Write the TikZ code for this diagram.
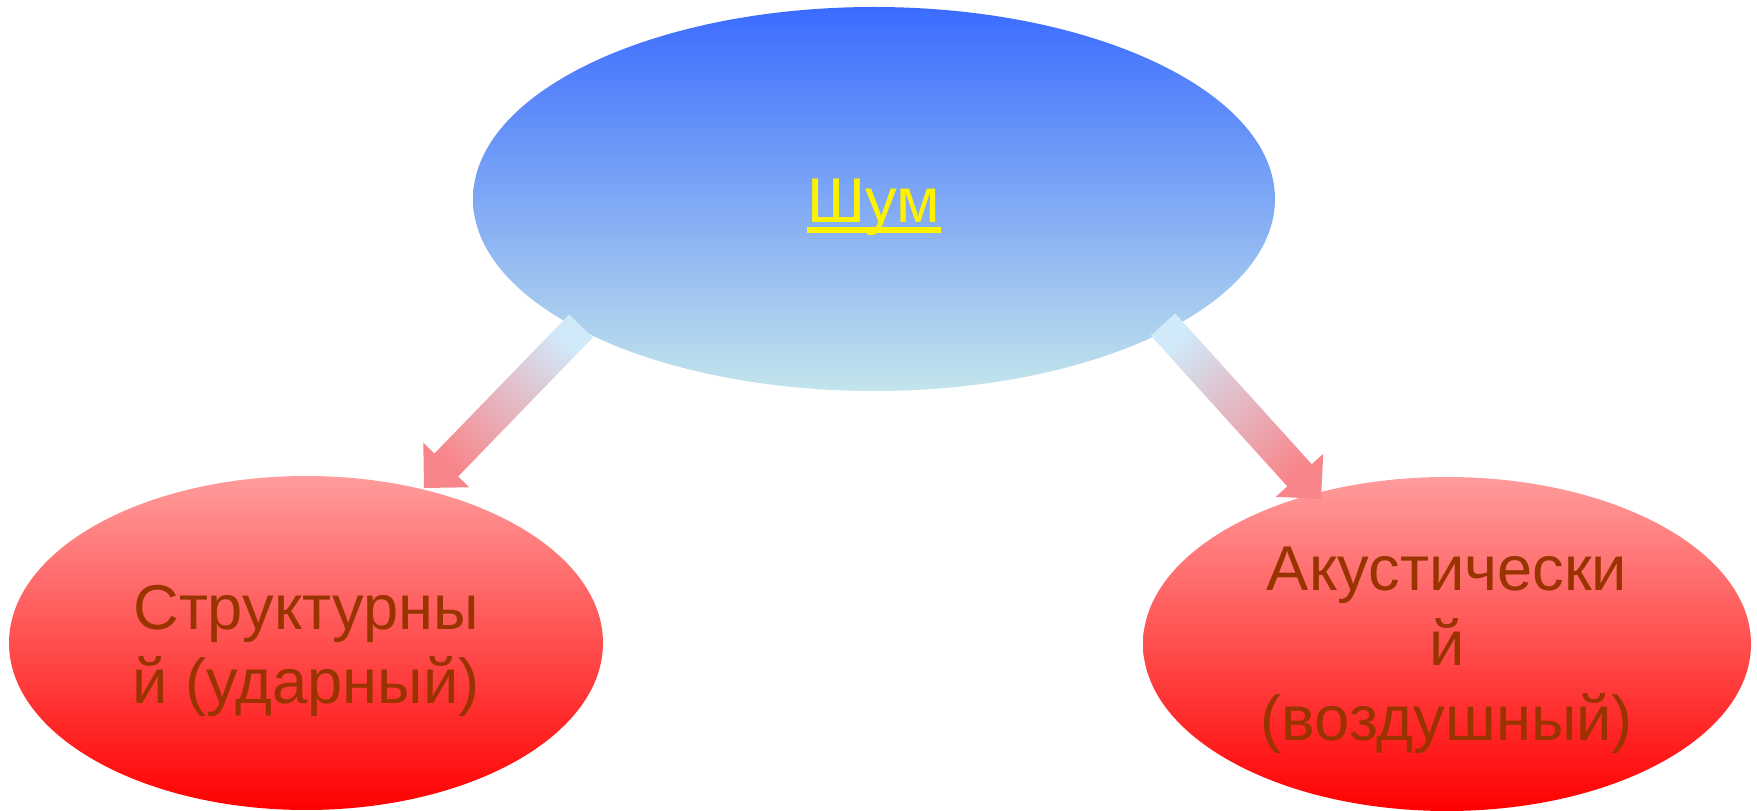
\documentclass[tikz,border=0pt]{standalone}
\usepackage{fontspec}
\setmainfont{Liberation Sans}
\usetikzlibrary{shapes.geometric,calc}
\definecolor{noisetop}{HTML}{3A6BFF}
\definecolor{noisebottom}{HTML}{C3E5EB}
\definecolor{kindtop}{HTML}{FF9C9C}
\definecolor{kindbottom}{HTML}{FF0000}
\definecolor{kindtext}{HTML}{993300}
\definecolor{arrowtail}{HTML}{D0EAFA}
\definecolor{arrowhead}{HTML}{F8858A}
\tikzset{
	topoval/.style={ellipse, inner sep=0pt, minimum width=8.02cm, minimum height=3.84cm, top color=noisetop, bottom color=noisebottom},
	kindoval/.style={ellipse, inner sep=0pt, minimum height=3.34cm, top color=kindtop, bottom color=kindbottom},
	kindlabel/.style={inner sep=0pt, text=kindtext, align=center, font=\fontsize{18}{21.3}\selectfont},
	blockarrow/.style={top color=arrowtail, bottom color=arrowhead}
}
\begin{document}
\begin{tikzpicture}
		\useasboundingbox (0,0) rectangle (17.57,8.11);
		
		\node[topoval] (noise) at (8.74,6.12) {};
		\node[kindoval, minimum width=5.94cm] (struct) at (3.06,1.68) {};
		\node[kindoval, minimum width=6.08cm] (acoust) at (14.47,1.67) {};
		
		\node[kindlabel] (structtext) at ([yshift=-0.08cm]struct.center) {Структурны\\й (ударный)};
		\node[kindlabel] (acousttext) at ([yshift=-0.06cm]acoust.center) {Акустически\\й\\(воздушный)};
		
		\node[anchor=base, inner sep=0pt, text=yellow, font=\fontsize{18}{21.3}\selectfont] (shum) at ([yshift=-0.24cm]noise.center) {Шум};
		\draw[yellow, line width=0.06cm] ([yshift=-0.07cm]shum.base west) -- ([yshift=-0.07cm]shum.base east);
		
		\coordinate (t1) at (5.81,4.85);
		\coordinate (p1) at (4.24,3.23);
		\coordinate (b1) at ($(p1)!0.32cm!(t1)$);
		\coordinate (t2) at (11.63,4.865);
		\coordinate (p2) at (13.21,3.12);
		\coordinate (b2) at ($(p2)!0.32cm!(t2)$);
		
		\shade[blockarrow, shading angle=-44] ($(t1)!0.165cm!90:(p1)$) -- ($(b1)!0.165cm!90:(p1)$) -- ($(b1)!0.32cm!90:(p1)$) -- (p1)
			-- ($(b1)!0.32cm!-90:(p1)$) -- ($(b1)!0.165cm!-90:(p1)$) -- ($(t1)!0.165cm!-90:(p1)$) -- cycle;
		\shade[blockarrow, shading angle=42] ($(t2)!0.165cm!90:(p2)$) -- ($(b2)!0.165cm!90:(p2)$) -- ($(b2)!0.32cm!90:(p2)$) -- (p2)
			-- ($(b2)!0.32cm!-90:(p2)$) -- ($(b2)!0.165cm!-90:(p2)$) -- ($(t2)!0.165cm!-90:(p2)$) -- cycle;
\end{tikzpicture}
\end{document}
